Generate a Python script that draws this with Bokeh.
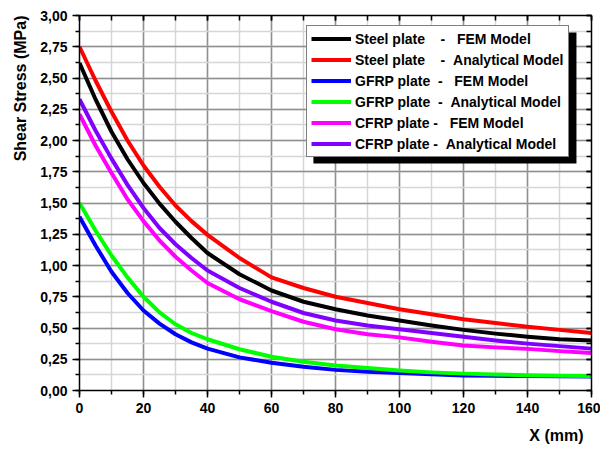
from bokeh.plotting import figure
from bokeh.models import (Range1d, LinearAxis, SingleIntervalTicker, Legend, LegendItem,
                          Title, BoxAnnotation, CustomJSTickFormatter)
from bokeh.embed import file_html
from bokeh.resources import INLINE

# ---------------- data ----------------
x_mm = [0, 5, 10, 15, 20, 25, 30, 35, 40, 50, 60, 70, 80, 90, 100, 110, 120, 130, 140, 150, 160]

steel_fem = [2.62, 2.33, 2.07, 1.85, 1.66, 1.495, 1.35, 1.22, 1.10, 0.93, 0.80, 0.71, 0.65, 0.60,
             0.56, 0.52, 0.485, 0.455, 0.43, 0.41, 0.40]
steel_ana = [2.75, 2.48, 2.23, 2.00, 1.80, 1.63, 1.48, 1.355, 1.245, 1.06, 0.905, 0.82, 0.75, 0.70,
             0.65, 0.61, 0.57, 0.54, 0.51, 0.485, 0.46]
gfrp_fem = [1.39, 1.16, 0.95, 0.78, 0.64, 0.535, 0.45, 0.385, 0.335, 0.265, 0.222, 0.19, 0.165,
            0.15, 0.14, 0.13, 0.12, 0.117, 0.115, 0.114, 0.113]
gfrp_ana = [1.50, 1.28, 1.08, 0.905, 0.75, 0.625, 0.53, 0.46, 0.41, 0.33, 0.27, 0.23, 0.20, 0.18,
            0.16, 0.145, 0.135, 0.128, 0.122, 0.118, 0.117]
cfrp_fem = [2.21, 1.96, 1.74, 1.53, 1.355, 1.20, 1.07, 0.96, 0.86, 0.73, 0.635, 0.55, 0.49, 0.45,
            0.425, 0.39, 0.36, 0.345, 0.333, 0.315, 0.30]
cfrp_ana = [2.33, 2.08, 1.855, 1.645, 1.46, 1.30, 1.17, 1.06, 0.96, 0.82, 0.71, 0.62, 0.56, 0.52,
            0.49, 0.46, 0.43, 0.40, 0.375, 0.355, 0.335]

series_names = [
    "Steel plate\u00a0\u00a0\u00a0\u00a0-\u00a0\u00a0\u00a0FEM Model",
    "Steel plate\u00a0\u00a0\u00a0\u00a0-\u00a0\u00a0Analytical Model",
    "GFRP plate\u00a0\u00a0-\u00a0\u00a0\u00a0FEM Model",
    "GFRP plate\u00a0\u00a0-\u00a0\u00a0Analytical Model",
    "CFRP plate -\u00a0\u00a0\u00a0FEM Model",
    "CFRP plate -\u00a0\u00a0Analytical Model",
]
series_values = [steel_fem, steel_ana, gfrp_fem, gfrp_ana, cfrp_fem, cfrp_ana]
series_colors = ["#000000", "#ff0000", "#0000ff", "#00ff00", "#ff00ff", "#8000ff"]

y_ticks = [0.0, 0.25, 0.5, 0.75, 1.0, 1.25, 1.5, 1.75, 2.0, 2.25, 2.5, 2.75, 3.0]
y_tick_labels = ["0,00", "0,25", "0,50", "0,75", "1,00", "1,25", "1,50", "1,75", "2,00",
                 "2,25", "2,50", "2,75", "3,00"]
x_ticks = [0, 20, 40, 60, 80, 100, 120, 140, 160]

FONT = "Liberation Sans"

# ---------------- figure ----------------
p = figure(width=600, height=452, output_backend="svg", toolbar_location=None,
           x_range=Range1d(0, 160), y_range=Range1d(0, 3),
           min_border_left=79, min_border_right=9, min_border_top=15, min_border_bottom=62)
p.background_fill_color = "white"
p.border_fill_color = "white"
p.outline_line_color = None

xt = SingleIntervalTicker(interval=20, num_minor_ticks=2)
yt = SingleIntervalTicker(interval=0.25, num_minor_ticks=2)

for ax, tk in ((p.xaxis[0], xt), (p.yaxis[0], yt)):
    ax.ticker = tk
    ax.axis_line_width = 1.5
    ax.axis_line_color = "black"
    ax.major_tick_line_width = 1.5
    ax.minor_tick_line_width = 1.5
    ax.major_tick_in = 0
    ax.major_tick_out = 7
    ax.minor_tick_in = 0
    ax.minor_tick_out = 4
    ax.major_label_text_font = FONT
    ax.major_label_text_font_style = "bold"
    ax.major_label_text_font_size = "14px"
    ax.major_label_text_color = "black"
    ax.major_label_standoff = 5

p.yaxis[0].major_label_overrides = {v: s for v, s in zip(y_ticks, y_tick_labels)}
p.xaxis[0].major_label_overrides = {v: str(v) for v in x_ticks}

# mirrored axes (top/right) with inward ticks, no labels
blank = CustomJSTickFormatter(code="return '';")
for loc, tk in (("right", yt), ("above", xt)):
    a = LinearAxis(ticker=tk, formatter=blank)
    a.axis_line_width = 1.5
    a.major_tick_line_width = 1.5
    a.minor_tick_line_width = 1.5
    a.major_tick_in = 5
    a.major_tick_out = 0
    a.minor_tick_in = 5
    a.minor_tick_out = 0
    a.major_label_standoff = 0
    p.add_layout(a, loc)

# grids
for g, tk in ((p.xgrid[0], xt), (p.ygrid[0], yt)):
    g.ticker = tk
    g.grid_line_color = "#8f8f8f"
    g.grid_line_width = 1.5
    g.minor_grid_line_color = "#d6d6d6"
    g.minor_grid_line_width = 1.5

# curves
items = []
for name, vals, col in zip(series_names, series_values, series_colors):
    r = p.line(x_mm, vals, line_color=col, line_width=4, line_join="round")
    items.append(LegendItem(label=name, renderers=[r]))

# legend shadow
shadow = BoxAnnotation(left=73.1, right=155.3, top=2.864, bottom=1.816,
                       fill_color="black", fill_alpha=1.0, line_color=None)
p.add_layout(shadow)

legend = Legend(items=items, location=(227, 233), orientation="vertical")
legend.label_text_font = FONT
legend.label_text_font_style = "bold"
legend.label_text_font_size = "14px"
legend.label_text_color = "black"
legend.glyph_width = 40
legend.glyph_height = 17
legend.label_height = 17
legend.label_standoff = 4
legend.spacing = 4
legend.padding = 4
legend.margin = 0
legend.border_line_color = "black"
legend.border_line_width = 1.5
legend.background_fill_color = "white"
legend.background_fill_alpha = 1.0
p.add_layout(legend)

# axis titles
p.add_layout(Title(text="Shear Stress (MPa)", align="right", standoff=18, text_font=FONT,
                   text_font_style="bold", text_font_size="16px", text_color="black"), "left")
p.add_layout(Title(text="X (mm)", align="right", offset=8, standoff=18, text_font=FONT,
                   text_font_style="bold", text_font_size="16px", text_color="black"), "below")

open("out.html", "w").write(file_html(p, INLINE))
